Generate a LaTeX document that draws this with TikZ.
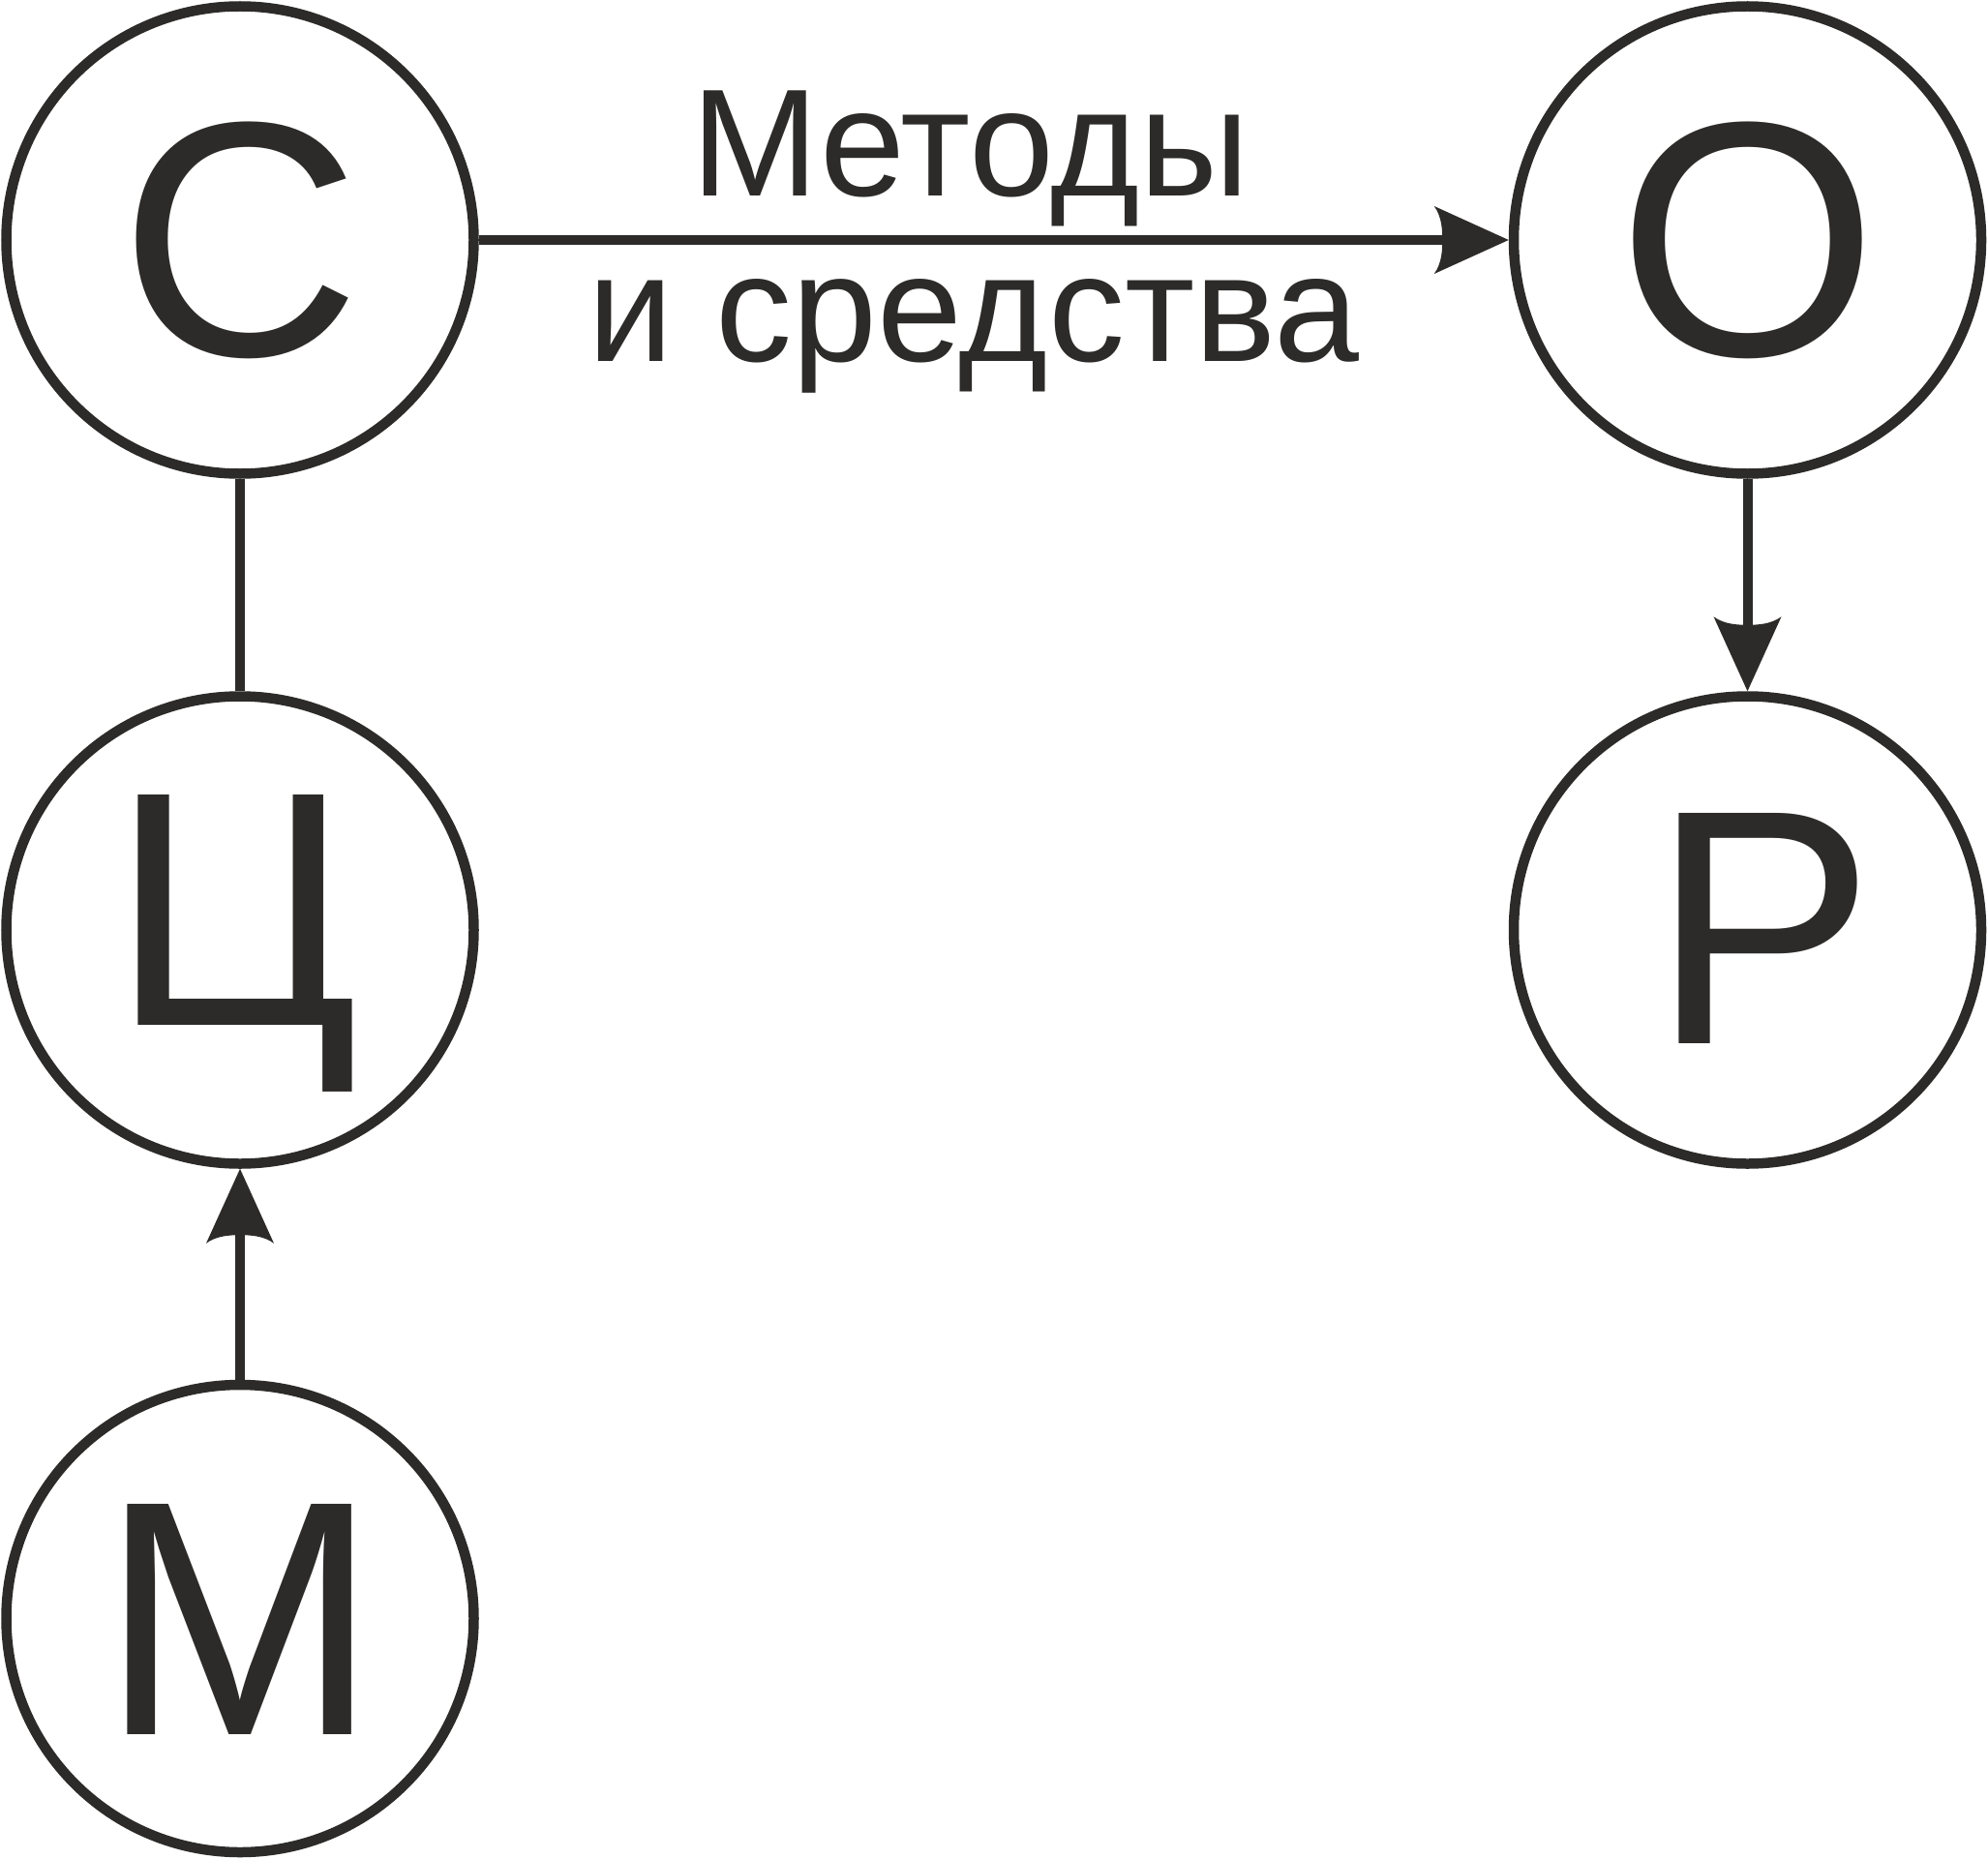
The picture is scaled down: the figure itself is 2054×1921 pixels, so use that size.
\documentclass[tikz,border=0pt]{standalone}
\usepackage{fontspec}
\setmainfont{Liberation Sans}
\usetikzlibrary{arrows.meta}
\definecolor{ink}{RGB}{44,43,41}
\pgfdeclarearrow{
  name = CurvedStealth,
  setup code = {
    \pgfarrowssettipend{0pt}
    \pgfarrowssetlineend{-40pt}
    \pgfarrowssetvisualbackend{-68pt}
    \pgfarrowssetbackend{-77pt}
    \pgfarrowsupperhullpoint{-77pt}{35pt}
    \pgfarrowsupperhullpoint{0pt}{0pt}
  },
  drawing code = {
    \pgfpathmoveto{\pgfqpoint{0pt}{0pt}}
    \pgfpathlineto{\pgfqpoint{-77pt}{35pt}}
    \pgfpathcurveto{\pgfqpoint{-69pt}{24pt}}{\pgfqpoint{-68.5pt}{10pt}}{\pgfqpoint{-68.5pt}{0pt}}
    \pgfpathcurveto{\pgfqpoint{-68.5pt}{-10pt}}{\pgfqpoint{-69pt}{-24pt}}{\pgfqpoint{-77pt}{-35pt}}
    \pgfpathclose
    \pgfusepathqfill
  }
}
\begin{document}
\begin{tikzpicture}[x=1pt,y=-1pt,
  ring/.style={circle, draw=ink, line width=10.5pt, minimum size=483pt, inner sep=0pt},
  letter/.style={text=ink, inner sep=0pt, anchor=base, font=\fontsize{346}{346}\selectfont},
  lbl/.style={text=ink, inner sep=0pt, anchor=base, font=\fontsize{158}{164}\selectfont},
  link/.style={color=ink, line width=10pt},
  arrowlink/.style={link, -{CurvedStealth}}]
\useasboundingbox (0,0) rectangle (2054,1921);
\node[ring] (C) at (248,248) {};
\node[ring] (O) at (1805.5,248) {};
\node[ring] (Ts) at (248,961) {};
\node[ring] (R) at (1805.5,961) {};
\node[ring] (M) at (248,1672.5) {};
\node[letter] (tC) at (248,367) {С};
\node[letter] (tO) at (1806,367) {О};
\node[letter] (tTs) at (242,1059) {Ц};
\node[letter] (tR) at (1822,1078) {Р};
\node[letter] (tM) at (248,1792) {М};
\draw[arrowlink] (C.east) -- (O.west);
\draw[link] (C.south) -- (Ts.north);
\draw[arrowlink] (O.south) -- (R.north);
\draw[arrowlink] (M.north) -- (Ts.south);
\node[lbl] (l1) at (1003,203) {Методы};
\node[lbl] (l2) at (1006,373) {и средства};
\end{tikzpicture}
\end{document}
